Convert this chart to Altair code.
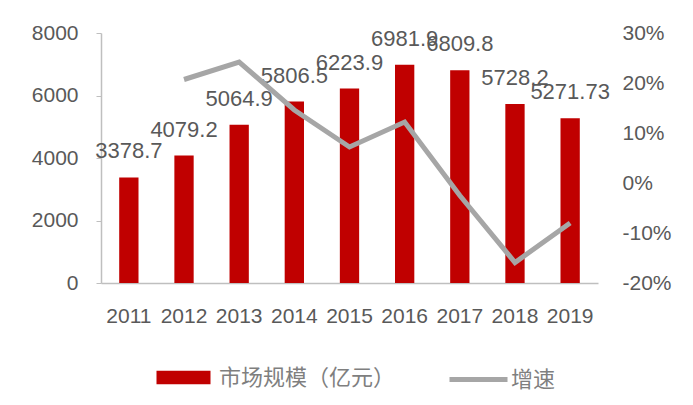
import altair as alt
import pandas as pd

years = ["2011", "2012", "2013", "2014", "2015", "2016", "2017", "2018", "2019"]
market = [3378.7, 4079.2, 5064.9, 5806.5, 6223.9, 6981.9, 6809.8, 5728.2, 5271.73]
market_labels = ["3378.7", "4079.2", "5064.9", "5806.5", "6223.9", "6981.9", "6809.8", "5728.2", "5271.73"]
growth = [None, 0.207, 0.242, 0.146, 0.072, 0.122, -0.025, -0.159, -0.080]

bar_name = "市场规模（亿元）"
line_name = "增速"

df = pd.DataFrame({
    "year": years,
    "market": market,
    "label": market_labels,
    "growth": growth,
    "s1": bar_name,
    "s2": line_name,
})

FONT = "Liberation Sans"
CJK = "Noto Sans CJK SC"
GREY_TXT = "#595959"
LEG_TXT = "#7F7F7F"

x = alt.X("year:N", title=None, sort=years,
          scale=alt.Scale(paddingInner=0.65, paddingOuter=0.33),
          axis=alt.Axis(labelAngle=0, labelFontSize=21, labelFont=FONT, labelColor=GREY_TXT,
                        ticks=False, domainColor="#BFBFBF", domainWidth=1.5, labelPadding=22))

bars = alt.Chart(df).mark_bar(color="#C00000").encode(
    x=x,
    y=alt.Y("market:Q", title=None,
            scale=alt.Scale(domain=[0, 8000], nice=False),
            axis=alt.Axis(values=[0, 2000, 4000, 6000, 8000], format="d", labelFontSize=21,
                          labelFont=FONT, labelColor=GREY_TXT, grid=False, domainColor="#BFBFBF",
                          domainWidth=1.5, tickColor="#BFBFBF", tickSize=5, labelPadding=18)),
    fill=alt.Fill("s1:N", title=None,
                  scale=alt.Scale(domain=[bar_name], range=["#C00000"]),
                  legend=alt.Legend(orient="none", legendX=69, legendY=331,
                                    symbolType="M-2,-0.5H2V0.5H-2Z", symbolSize=729,
                                    symbolStrokeWidth=0, labelFont=CJK, labelFontSize=22,
                                    labelColor=LEG_TXT, labelOffset=22, labelLimit=0, padding=0)),
)

texts = alt.Chart(df).mark_text(baseline="middle", dy=-26, fontSize=22, font=FONT,
                                color=GREY_TXT).encode(
    x=alt.X("year:N", sort=years),
    y=alt.Y("market:Q"),
    text="label:N",
)

line = alt.Chart(df).mark_line(strokeWidth=5, color="#A6A6A6").encode(
    x=alt.X("year:N", sort=years),
    y=alt.Y("growth:Q", title=None,
            scale=alt.Scale(domain=[-0.2, 0.3], nice=False),
            axis=alt.Axis(orient="right", format=".0%", values=[-0.2, -0.1, 0, 0.1, 0.2, 0.3],
                          labelExpr="replace(datum.label, '\u2212', '-')",
                          labelFontSize=21, labelFont=FONT, labelColor=GREY_TXT, grid=False,
                          domain=False, ticks=False, labelPadding=24)),
    stroke=alt.Stroke("s2:N", title=None,
                      scale=alt.Scale(domain=[line_name], range=["#A6A6A6"]),
                      legend=alt.Legend(orient="none", legendX=346, legendY=315,
                                        symbolType="stroke", symbolSize=3364, symbolStrokeWidth=5,
                                        labelFont=CJK, labelFontSize=22, labelColor=LEG_TXT,
                                        labelOffset=1, labelLimit=0, padding=0)),
)

chart = alt.layer(alt.layer(bars, texts), line).resolve_scale(
    y="independent", fill="independent", stroke="independent"
).properties(
    width=497, height=250,
    autosize=alt.AutoSizeParams(type="none"),
    padding={"left": 93, "top": 25, "right": 87, "bottom": 114},
    background="white",
).configure_view(stroke=None)

chart.save("out.html", embed_options={"renderer": "svg", "actions": False})
